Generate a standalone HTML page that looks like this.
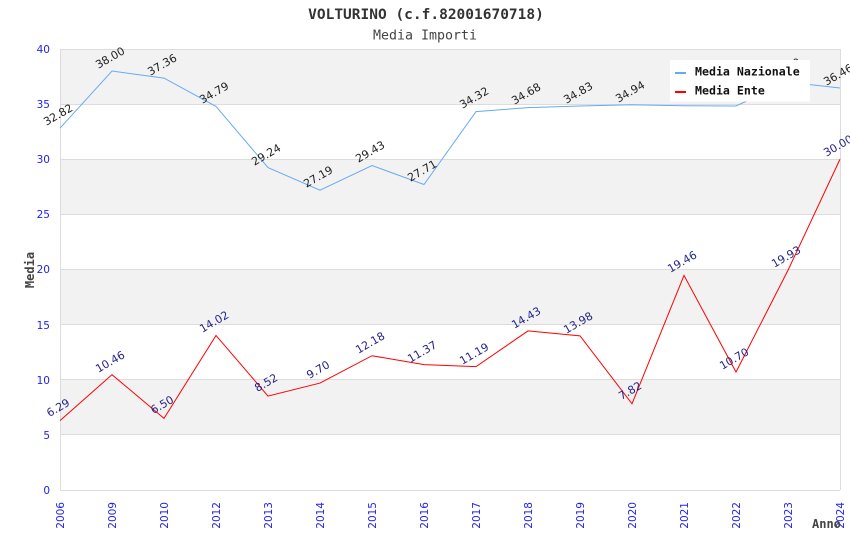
<!DOCTYPE html>
<html>
<head>
<meta charset="utf-8">
<style>
html,body{margin:0;padding:0;background:#fff;}
svg{display:block;}
.tk{font-family:"DejaVu Sans","Liberation Sans",sans-serif;font-size:10.5px;fill:#2222ee;}
.ln{font-family:"DejaVu Sans","Liberation Sans",sans-serif;font-size:11px;fill:#222;}
.le{font-family:"DejaVu Sans","Liberation Sans",sans-serif;font-size:11px;fill:#24248a;}
.mono{font-family:"DejaVu Sans Mono","Liberation Mono",monospace;}
</style>
</head>
<body>
<svg width="850" height="550" viewBox="0 0 850 550" xmlns="http://www.w3.org/2000/svg">
<rect width="850" height="550" fill="#fff"/>
<!-- title -->
<text x="426" y="19" text-anchor="middle" class="mono" font-size="14.5" font-weight="bold" fill="#333">VOLTURINO (c.f.82001670718)</text>
<text x="425" y="39.5" text-anchor="middle" class="mono" font-size="13.3" fill="#444">Media Importi</text>

<!-- bands -->
<rect x="60" y="49" width="780" height="55.1" fill="#f2f2f2"/>
<rect x="60" y="159.25" width="780" height="55.1" fill="#f2f2f2"/>
<rect x="60" y="269.5" width="780" height="55.1" fill="#f2f2f2"/>
<rect x="60" y="379.75" width="780" height="55.1" fill="#f2f2f2"/>
<!-- grid lines -->
<g stroke="#dcdcdc" stroke-width="1">
<line x1="60" y1="49.5" x2="840" y2="49.5"/>
<line x1="60" y1="104.5" x2="840" y2="104.5"/>
<line x1="60" y1="159.5" x2="840" y2="159.5"/>
<line x1="60" y1="214.5" x2="840" y2="214.5"/>
<line x1="60" y1="269.5" x2="840" y2="269.5"/>
<line x1="60" y1="324.5" x2="840" y2="324.5"/>
<line x1="60" y1="379.5" x2="840" y2="379.5"/>
<line x1="60" y1="434.5" x2="840" y2="434.5"/>
<line x1="60" y1="490.5" x2="840" y2="490.5"/>
<line x1="60.5" y1="49" x2="60.5" y2="490"/>
<line x1="840.5" y1="49" x2="840.5" y2="490"/>
</g>

<!-- y tick labels -->
<g class="tk" text-anchor="end">
<text x="50" y="53">40</text>
<text x="50" y="108">35</text>
<text x="50" y="163">30</text>
<text x="50" y="218">25</text>
<text x="50" y="273">20</text>
<text x="50" y="329">15</text>
<text x="50" y="384">10</text>
<text x="50" y="439">5</text>
<text x="50" y="494">0</text>
</g>

<!-- x tick labels -->
<g class="tk" text-anchor="end">
<text transform="translate(64,502) rotate(-90)">2006</text>
<text transform="translate(116,502) rotate(-90)">2009</text>
<text transform="translate(168,502) rotate(-90)">2010</text>
<text transform="translate(220,502) rotate(-90)">2012</text>
<text transform="translate(272,502) rotate(-90)">2013</text>
<text transform="translate(324,502) rotate(-90)">2014</text>
<text transform="translate(376,502) rotate(-90)">2015</text>
<text transform="translate(428,502) rotate(-90)">2016</text>
<text transform="translate(480,502) rotate(-90)">2017</text>
<text transform="translate(532,502) rotate(-90)">2018</text>
<text transform="translate(584,502) rotate(-90)">2019</text>
<text transform="translate(636,502) rotate(-90)">2020</text>
<text transform="translate(688,502) rotate(-90)">2021</text>
<text transform="translate(740,502) rotate(-90)">2022</text>
<text transform="translate(792,502) rotate(-90)">2023</text>
<text transform="translate(844,502) rotate(-90)">2024</text>
</g>

<!-- axis titles -->
<text transform="translate(34,270) rotate(-90)" text-anchor="middle" class="mono" font-size="12" font-weight="bold" fill="#444">Media</text>
<text x="812" y="528" class="mono" font-size="12" font-weight="bold" fill="#444">Anno</text>

<!-- national line -->
<polyline fill="none" stroke="#66aaf5" stroke-width="1" points="60,128.16 112,71.05 164,78.11 216,106.44 268,167.63 320,190.23 372,165.53 424,184.5 476,111.62 528,107.66 580,106 632,104.79 684,105.78 736,106 788,82.08 840,88.03"/>
<!-- ente line -->
<polyline fill="none" stroke="#ff0000" stroke-width="1" points="60,420.65 112,374.68 164,418.34 216,335.43 268,396.07 320,383.06 372,355.72 424,364.65 476,366.63 528,330.91 580,335.87 632,403.78 684,275.45 736,372.03 788,270.27 840,159.25"/>

<!-- national labels -->
<g class="ln" text-anchor="middle">
<text transform="translate(60,118) rotate(-30)">32.82</text>
<text transform="translate(112,61) rotate(-30)">38.00</text>
<text transform="translate(164,68) rotate(-30)">37.36</text>
<text transform="translate(216,96) rotate(-30)">34.79</text>
<text transform="translate(268,158) rotate(-30)">29.24</text>
<text transform="translate(320,180) rotate(-30)">27.19</text>
<text transform="translate(372,155) rotate(-30)">29.43</text>
<text transform="translate(424,174) rotate(-30)">27.71</text>
<text transform="translate(476,101) rotate(-30)">34.32</text>
<text transform="translate(528,97) rotate(-30)">34.68</text>
<text transform="translate(580,96) rotate(-30)">34.83</text>
<text transform="translate(632,95) rotate(-30)">34.94</text>
<text transform="translate(788,72) rotate(-30)">37.00</text>
<text transform="translate(840,78) rotate(-30)">36.46</text>
</g>

<!-- ente labels -->
<g class="le" text-anchor="middle">
<text transform="translate(60,411) rotate(-30)">6.29</text>
<text transform="translate(112,365) rotate(-30)">10.46</text>
<text transform="translate(164,408) rotate(-30)">6.50</text>
<text transform="translate(216,325) rotate(-30)">14.02</text>
<text transform="translate(268,386) rotate(-30)">8.52</text>
<text transform="translate(320,373) rotate(-30)">9.70</text>
<text transform="translate(372,346) rotate(-30)">12.18</text>
<text transform="translate(424,355) rotate(-30)">11.37</text>
<text transform="translate(476,357) rotate(-30)">11.19</text>
<text transform="translate(528,321) rotate(-30)">14.43</text>
<text transform="translate(580,326) rotate(-30)">13.98</text>
<text transform="translate(632,394) rotate(-30)">7.82</text>
<text transform="translate(684,265) rotate(-30)">19.46</text>
<text transform="translate(736,362) rotate(-30)">10.70</text>
<text transform="translate(788,260) rotate(-30)">19.93</text>
<text transform="translate(840,149) rotate(-30)">30.00</text>
</g>

<!-- legend -->
<rect x="670" y="60" width="140" height="41.5" fill="#ffffff"/>
<rect x="675" y="72" width="11" height="2" fill="#66aaf5"/>
<rect x="675" y="91" width="11" height="2" fill="#ff0000"/>
<text x="695" y="75.5" class="mono" font-size="11.6" font-weight="bold" fill="#111">Media Nazionale</text>
<text x="695" y="94.5" class="mono" font-size="11.6" font-weight="bold" fill="#111">Media Ente</text>
</svg>
</body>
</html>
